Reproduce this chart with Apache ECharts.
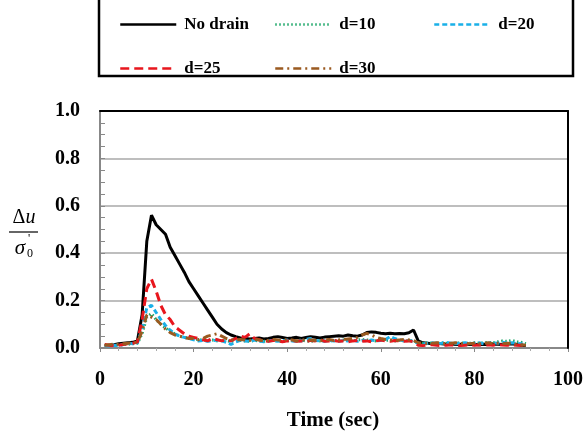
<!DOCTYPE html>
<html>
<head>
<meta charset="utf-8">
<script src="https://cdn.jsdelivr.net/npm/echarts@6/dist/echarts.min.js"></script>
<style>html,body{margin:0;padding:0;background:#fff}#c{width:587px;height:432px}</style>
</head>
<body>
<div id="c"></div>
<script>
// Time (sec), 1..91
const times = [];
for (let t = 1; t <= 91; t++) times.push(t);

const noDrain = [
 0.010,0.012,0.014,0.018,0.020,0.022,0.024,0.030,0.140,0.450,
 0.560,0.520,0.500,0.480,0.425,0.390,0.355,0.320,0.280,0.250,
 0.220,0.190,0.160,0.130,0.100,0.080,0.065,0.055,0.048,0.042,
 0.040,0.038,0.040,0.042,0.038,0.040,0.045,0.048,0.044,0.040,
 0.042,0.045,0.040,0.044,0.048,0.045,0.042,0.046,0.048,0.050,
 0.052,0.050,0.055,0.052,0.050,0.055,0.065,0.068,0.066,0.062,
 0.060,0.062,0.060,0.061,0.060,0.064,0.076,0.030,0.022,0.020,
 0.018,0.020,0.018,0.016,0.018,0.015,0.016,0.018,0.015,0.016,
 0.014,0.016,0.015,0.017,0.016,0.015,0.016,0.018,0.015,0.012,0.010
];
const d10 = [
 0.012,0.010,0.012,0.014,0.015,0.016,0.018,0.020,0.060,0.130,
 0.145,0.120,0.100,0.085,0.070,0.060,0.050,0.045,0.040,0.038,
 0.035,0.034,0.032,0.034,0.030,0.032,0.030,0.028,0.030,0.032,
 0.030,0.028,0.032,0.030,0.028,0.030,0.032,0.030,0.028,0.030,
 0.032,0.030,0.034,0.030,0.028,0.032,0.030,0.034,0.030,0.032,
 0.030,0.034,0.032,0.030,0.034,0.036,0.034,0.032,0.030,0.034,
 0.032,0.034,0.030,0.032,0.030,0.032,0.030,0.022,0.020,0.022,
 0.020,0.018,0.022,0.020,0.018,0.020,0.022,0.018,0.020,0.022,
 0.020,0.022,0.024,0.022,0.026,0.030,0.028,0.032,0.026,0.024,0.018
];
const d20 = [
 0.010,0.008,0.012,0.010,0.015,0.020,0.018,0.022,0.080,0.170,
 0.180,0.150,0.120,0.095,0.075,0.060,0.050,0.045,0.040,0.035,
 0.030,0.032,0.028,0.030,0.034,0.030,0.024,0.015,0.025,0.032,
 0.030,0.028,0.034,0.030,0.026,0.030,0.032,0.028,0.030,0.034,
 0.030,0.028,0.030,0.036,0.040,0.032,0.030,0.028,0.032,0.030,
 0.028,0.032,0.030,0.034,0.028,0.032,0.030,0.034,0.030,0.032,
 0.036,0.048,0.040,0.034,0.030,0.032,0.028,0.020,0.018,0.020,
 0.022,0.018,0.020,0.024,0.020,0.018,0.020,0.022,0.018,0.020,
 0.022,0.018,0.020,0.022,0.020,0.024,0.020,0.022,0.020,0.018,0.012
];
const d25 = [
 0.015,0.012,0.010,0.012,0.015,0.018,0.020,0.025,0.120,0.250,
 0.290,0.240,0.180,0.140,0.120,0.090,0.075,0.060,0.050,0.045,
 0.040,0.035,0.030,0.040,0.035,0.030,0.035,0.030,0.040,0.050,
 0.045,0.060,0.040,0.035,0.030,0.028,0.032,0.030,0.026,0.030,
 0.032,0.028,0.030,0.026,0.032,0.030,0.036,0.028,0.030,0.032,
 0.028,0.030,0.026,0.030,0.032,0.028,0.030,0.026,0.030,0.034,
 0.030,0.028,0.032,0.030,0.028,0.030,0.026,0.012,0.010,0.012,
 0.014,0.012,0.010,0.012,0.014,0.012,0.010,0.012,0.014,0.012,
 0.013,0.012,0.014,0.012,0.015,0.013,0.012,0.014,0.012,0.012,0.010
];
const d30 = [
 0.012,0.014,0.016,0.015,0.018,0.020,0.022,0.025,0.070,0.140,
 0.130,0.120,0.100,0.080,0.065,0.055,0.050,0.045,0.040,0.040,
 0.035,0.040,0.050,0.055,0.060,0.050,0.040,0.035,0.034,0.036,
 0.034,0.032,0.036,0.034,0.030,0.032,0.036,0.034,0.032,0.036,
 0.034,0.030,0.032,0.036,0.034,0.032,0.030,0.034,0.036,0.032,
 0.034,0.036,0.038,0.040,0.045,0.055,0.062,0.055,0.045,0.040,
 0.036,0.034,0.032,0.034,0.036,0.034,0.032,0.022,0.020,0.018,
 0.020,0.022,0.020,0.018,0.020,0.022,0.018,0.020,0.018,0.020,
 0.018,0.020,0.022,0.018,0.020,0.018,0.020,0.018,0.016,0.014,0.012
];

const seriesNames = ['No drain','d=10','d=20','d=25','d=30'];
const seriesData = [noDrain, d10, d20, d25, d30];
const seriesColors = ['#000000','#1fa86a','#1ab0e8','#e8161d','#9a5a20'];
const seriesDash = ['solid',[1.5,2.5],[5,3],[9,5],[8,4,2,4]];

const xTicks = [0,20,40,60,80,100];
const yTicks = [0.0,0.2,0.4,0.6,0.8,1.0];

const serif = '"Liberation Serif","DejaVu Serif",serif';

const chart = echarts.init(document.getElementById('c'));

const series = seriesNames.map((n,i)=>({
  name:n, type:'line', symbol:'none', showSymbol:false,
  xAxisIndex:0, yAxisIndex:0,
  data: times.map((t,k)=>[t, seriesData[i][k]]),
  lineStyle:{color:seriesColors[i], width:3, type:seriesDash[i]},
  itemStyle:{color:seriesColors[i]},
  z: 2+i
}));

const legendPos = [[119,16],[274,16],[433,16],[119,60],[274,60]];
const legends = seriesNames.map((n,i)=>({
  data:[n], left:legendPos[i][0], top:legendPos[i][1], padding:0,
  itemWidth:56, itemHeight:14, itemGap:0,
  itemStyle:{opacity:0, borderWidth:0},
  lineStyle:{width:2.5},
  textStyle:{fontFamily:serif, fontWeight:'bold', fontSize:17, color:'#000', padding:[0,0,0,3]}
}));

chart.setOption({
  animation:false,
  backgroundColor:'#fff',
  grid:{left:100, right:19, top:111, bottom:84, show:false},
  legend: legends,
  xAxis:[{
    type:'value', min:xTicks[0], max:xTicks[xTicks.length-1], interval:20,
    position:'bottom',
    axisLine:{show:true, lineStyle:{color:'#888', width:2}},
    axisTick:{show:true, inside:false, length:4, lineStyle:{color:'#888'}},
    minorTick:{show:true, splitNumber:5, length:3, lineStyle:{color:'#aaa'}},
    splitLine:{show:false},
    axisLabel:{margin:22, fontFamily:serif, fontWeight:'bold', fontSize:20, color:'#000'}
  },{
    type:'value', min:0, max:100, position:'top', z:5,
    axisLine:{show:true, onZero:false, lineStyle:{color:'#000', width:2}},
    axisTick:{show:false}, axisLabel:{show:false}, splitLine:{show:false}
  }],
  yAxis:[{
    type:'value', min:yTicks[0], max:yTicks[yTicks.length-1], interval:0.2,
    axisLine:{show:true, lineStyle:{color:'#888', width:2}},
    axisTick:{show:true, inside:true, length:5, lineStyle:{color:'#888'}},
    minorTick:{show:true, splitNumber:4, length:5, lineStyle:{color:'#888'}},
    splitLine:{show:true, lineStyle:{color:'#a8a8a8', width:1.5}},
    axisLabel:{margin:20, fontFamily:serif, fontWeight:'bold', fontSize:20, color:'#000',
      formatter:v=>v.toFixed(1)}
  },{
    type:'value', min:0, max:1, position:'right', z:5,
    axisLine:{show:true, onZero:false, lineStyle:{color:'#000', width:2}},
    axisTick:{show:false}, axisLabel:{show:false}, splitLine:{show:false}
  }],
  graphic:[
    {type:'rect', shape:{x:99, y:-10, width:474, height:86}, style:{fill:'none', stroke:'#000', lineWidth:2.5}, z:0},
    {type:'text', x:24, y:218, style:{text:'{a|Δ}{b|u}', textAlign:'center', textVerticalAlign:'middle',
      rich:{a:{font:'20px '+serif, fill:'#000', color:'#000'}, b:{font:'italic 20px '+serif, fill:'#000', color:'#000'}}}},
    {type:'line', shape:{x1:9, y1:232, x2:38, y2:232}, style:{stroke:'#000', lineWidth:1.2}},
    {type:'text', x:20, y:248, style:{text:'σ', font:'italic 21px '+serif, fill:'#000', textAlign:'center', textVerticalAlign:'middle'}},
    {type:'text', x:27, y:254, style:{text:'0', font:'12px '+serif, fill:'#000', textAlign:'left', textVerticalAlign:'middle'}},
    {type:'text', x:29, y:239, style:{text:'\'', font:'12px '+serif, fill:'#000', textAlign:'center', textVerticalAlign:'middle'}},
    {type:'text', x:333, y:421, style:{text:'Time (sec)', font:'bold 21px '+serif, fill:'#000', textAlign:'center', textVerticalAlign:'middle'}}
  ],
  series: series
});
</script>
</body>
</html>
